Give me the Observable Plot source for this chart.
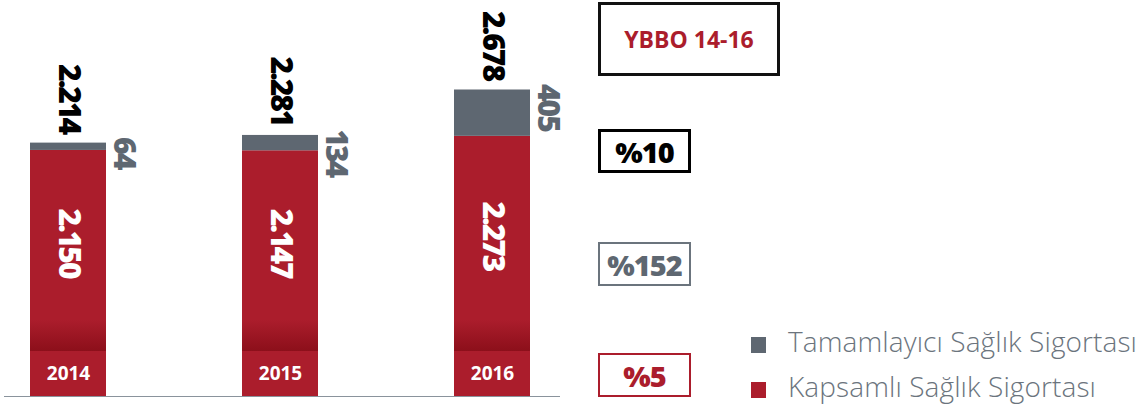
<!DOCTYPE html>
<html>
<head>
<meta charset="utf-8">
<script src="https://cdn.jsdelivr.net/npm/d3@7"></script>
<script src="https://cdn.jsdelivr.net/npm/@observablehq/plot@0.6"></script>
<style>
  html, body { margin: 0; padding: 0; background: #fff; }
  #wrap { position: relative; width: 1147px; height: 406px; overflow: hidden; font-family: "Open Sans", sans-serif; }
  #wrap svg { position: absolute; left: 0; top: 0; }
  .box { position: absolute; box-sizing: border-box; display: flex; align-items: center; justify-content: center; font-family: "Open Sans", sans-serif; }
  .sq { position: absolute; width: 15px; height: 16px; }
  .lg { position: absolute; font-family: "Open Sans", sans-serif; font-weight: 300; font-size: 28px; line-height: 28px; color: #6b747d; white-space: nowrap; letter-spacing: 0.1px; }
</style>
</head>
<body>
<svg width="0" height="0" style="position:absolute">
  <defs>
    <linearGradient id="redGrad" x1="0" y1="0" x2="0" y2="1">
      <stop offset="0" stop-color="#ab1d2c"/>
      <stop offset="1" stop-color="#8c0f1a"/>
    </linearGradient>
  </defs>
</svg>
<div id="wrap"></div>
<script>
// ---- data ----
const years = ["2014", "2015", "2016"];
const kapsamli = [2150, 2147, 2273];      // Kapsamlı Sağlık Sigortası
const tamamlayici = [64, 134, 405];       // Tamamlayıcı Sağlık Sigortası
const totals = [2214, 2281, 2678];
const boxLabels = ["YBBO 14-16", "%10", "%152", "%5"];
const legendLabels = ["Tamamlayıcı Sağlık Sigortası", "Kapsamlı Sağlık Sigortası"];

// ---- styling ----
const RED = "#ab1d2c", GRAY = "#5e6771", BLACK = "#000";
const W = 1147, H = 406, MB = 10, MT = 0;
const yMax = 3460;
const upp = yMax / (H - MB - MT);  // data units per pixel
const bandTop = 45 * upp;          // year band height
const gradTop = 76 * upp;          // gradient shading top

const rows = years.map((y, i) => ({
  year: y, k: kapsamli[i], t: tamamlayici[i], total: totals[i],
  mid: (kapsamli[i] + bandTop) / 2
}));

const fmt = v => d3.format(",")(v).replace(",", ".");
const heavy = { fontFamily: "Open Sans", fontWeight: 800, fontSize: 30, rotate: 90 };

const plot = Plot.plot({
  width: W, height: H,
  marginLeft: 4, marginRight: W - 560, marginTop: MT, marginBottom: MB,
  x: { type: "band", domain: years, paddingInner: 0.6415, paddingOuter: 0.132, align: 0.46, axis: null },
  y: { domain: [0, yMax], axis: null },
  style: { background: "transparent", overflow: "visible" },
  marks: [
    Plot.barY(rows, { x: "year", y1: 0, y2: "k", fill: RED }),
    Plot.barY(rows, { x: "year", y1: bandTop, y2: gradTop, fill: "url(#redGrad)" }),
    Plot.barY(rows, { x: "year", y1: "k", y2: "total", fill: GRAY }),
    Plot.ruleY([0], { stroke: "#8a939c", strokeWidth: 1.2 }),
    Plot.text(rows, { x: "year", y: "total", text: d => fmt(d.total), textAnchor: "end", dy: -10, fill: BLACK, ...heavy }),
    Plot.text(rows, { x: "year", y: "total", text: d => String(d.t), textAnchor: "start", dx: 55, dy: -6, fill: GRAY, ...heavy }),
    Plot.text(rows, { x: "year", y: "mid", text: d => fmt(d.k), textAnchor: "middle", dy: -8, fill: "#fff", ...heavy }),
    Plot.text(rows, { x: "year", y: bandTop / 2, text: "year", fill: "#fff", fontFamily: "Open Sans", fontWeight: 700, fontSize: 19 })
  ]
});
// tighten the heavy rotated numbers
d3.select(plot).selectAll("text").filter(function () { return this.closest("g") && this.closest("g").getAttribute("font-weight") == "800"; })
  .attr("letter-spacing", "-2px");
d3.select(plot).selectAll("g[font-weight='800']").attr("letter-spacing", "-2px");
const wrap = document.getElementById("wrap");
wrap.appendChild(plot);

// ---- annotation boxes (right side) ----
const boxes = [
  { text: boxLabels[0], left: 598, top: 2, w: 182, h: 74, border: "3px solid #111", color: RED, weight: 700, size: 23 },
  { text: boxLabels[1], left: 598, top: 129, w: 93, h: 44, border: "3px solid #000", color: BLACK, weight: 800, size: 29 },
  { text: boxLabels[2], left: 598, top: 242, w: 93, h: 44, border: "2.5px solid #6b747d", color: GRAY, weight: 800, size: 29 },
  { text: boxLabels[3], left: 598, top: 353, w: 93, h: 44, border: "2.5px solid " + RED, color: RED, weight: 800, size: 29 }
];
boxes.forEach(b => {
  const d = document.createElement("div");
  d.className = "box";
  Object.assign(d.style, {
    left: b.left + "px", top: b.top + "px", width: b.w + "px", height: b.h + "px",
    border: b.border, color: b.color, fontWeight: b.weight, fontSize: b.size + "px",
    letterSpacing: b.weight === 800 ? "-1px" : "0"
  });
  d.textContent = b.text;
  wrap.appendChild(d);
});

// ---- legend ----
const legendColors = [GRAY, RED];
const legendTops = [337, 382];
legendLabels.forEach((lab, i) => {
  const s = document.createElement("div");
  s.className = "sq";
  Object.assign(s.style, { left: "751px", top: legendTops[i] + "px", background: legendColors[i] });
  wrap.appendChild(s);
  const t = document.createElement("div");
  t.className = "lg";
  Object.assign(t.style, { left: "788px", top: (legendTops[i] - 10) + "px" });
  t.textContent = lab;
  wrap.appendChild(t);
});
</script>
</body>
</html>
